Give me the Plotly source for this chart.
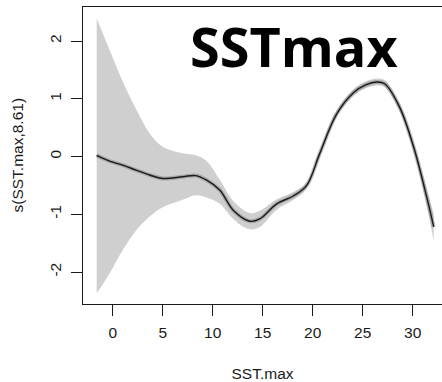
import plotly.graph_objects as go

# Smooth term s(SST.max, 8.61)
sst = [-1.6, -0.3, 1.0, 2.4, 3.7, 5.0, 7.0, 8.3, 9.4, 10.7, 12.1, 13.7, 14.7,
       16.4, 18.1, 19.4, 20.7, 22.4, 24.1, 25.3, 26.4, 27.2, 28.7, 30.1, 31.4, 32.1]
fit = [0.02, -0.08, -0.15, -0.24, -0.32, -0.38, -0.35, -0.33, -0.41, -0.58, -0.94,
       -1.12, -1.08, -0.82, -0.68, -0.50, 0.05, 0.74, 1.11, 1.24, 1.29, 1.26, 0.85,
       0.16, -0.70, -1.22]
upper = [2.39, 1.84, 1.30, 0.80, 0.40, 0.17, 0.055, 0.02, -0.08, -0.40, -0.78,
         -0.98, -0.94, -0.74, -0.61, -0.44, 0.11, 0.80, 1.17, 1.30, 1.35, 1.32, 0.92,
         0.25, -0.55, -1.00]
lower = [-2.37, -2.02, -1.62, -1.27, -1.04, -0.88, -0.75, -0.67, -0.71, -0.82, -1.09,
         -1.26, -1.22, -0.92, -0.75, -0.56, -0.01, 0.68, 1.05, 1.18, 1.23, 1.20, 0.78,
         0.07, -0.85, -1.46]

xticks = [0, 5, 10, 15, 20, 25, 30]
yticks = [-2, -1, 0, 1, 2]

font_axes = dict(family="Liberation Sans, Arial, sans-serif", size=15.5, color="#1a1a1a")

fig = go.Figure()
fig.add_trace(go.Scatter(x=sst, y=lower, mode="lines", line=dict(width=0, shape="spline", color="rgba(0,0,0,0)"),
                         showlegend=False, hoverinfo="skip"))
fig.add_trace(go.Scatter(x=sst, y=upper, mode="lines", line=dict(width=0, shape="spline", color="rgba(0,0,0,0)"),
                         fill="tonexty", fillcolor="#cfcfcf", showlegend=False, hoverinfo="skip"))
fig.add_trace(go.Scatter(x=sst, y=fit, mode="lines", line=dict(width=4, shape="spline", color="rgba(120,120,120,0.45)"),
                         showlegend=False, hoverinfo="skip"))
fig.add_trace(go.Scatter(x=sst, y=fit, mode="lines", line=dict(width=1.4, shape="spline", color="#1a1a1a"),
                         showlegend=False))

fig.add_annotation(x=18.08, y=1.91, xref="x", yref="y", text="<b>SSTmax</b>", showarrow=False,
                   font=dict(family="Open Sans, sans-serif", size=54, color="black"),
                   xanchor="center", yanchor="middle")

# y-axis title
fig.add_annotation(x=-0.1838, y=0.5, xref="paper", yref="paper", text="s(SST.max,8.61)",
                   textangle=-90, showarrow=False, font=font_axes,
                   xanchor="center", yanchor="middle")

fig.update_layout(
    width=442, height=382,
    margin=dict(l=83, r=0, t=7, b=78),
    paper_bgcolor="white", plot_bgcolor="white",
    font=font_axes,
    xaxis=dict(range=[-2.97, 32.93], tickvals=xticks, ticktext=[str(v) for v in xticks],
               showgrid=False, zeroline=False, showline=True, linecolor="#1a1a1a", linewidth=1.2,
               mirror=True, ticks="outside", ticklen=11, tickwidth=1.2, tickcolor="#1a1a1a",
               ticklabelstandoff=3, tickfont=font_axes, automargin=False,
               title=dict(text="SST.max", font=font_axes, standoff=28)),
    yaxis=dict(range=[-2.554, 2.589], tickvals=yticks, ticktext=[str(v) for v in yticks],
               showgrid=False, zeroline=False, showline=True, linecolor="#1a1a1a", linewidth=1.2,
               ticks="outside", ticklen=11, tickwidth=1.2, tickcolor="#1a1a1a", tickangle=-90,
               ticklabelstandoff=4, tickfont=font_axes, automargin=False),
)

fig.write_html("out.html")
